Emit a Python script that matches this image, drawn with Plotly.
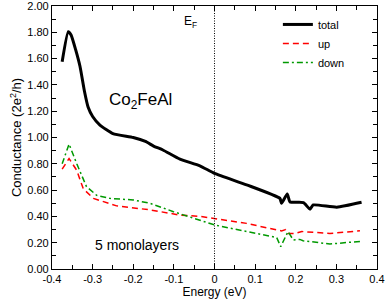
import plotly.graph_objects as go

# total
e_total = [-0.375, -0.360, -0.353, -0.342, -0.331, -0.320, -0.311, -0.300, -0.282, -0.250, -0.200, -0.170, -0.150, -0.127, -0.085, -0.036, 0.0, 0.079, 0.161, 0.165, 0.179, 0.186, 0.219, 0.235, 0.243, 0.301, 0.362]
g_total = [1.576, 1.805, 1.78, 1.67, 1.54, 1.35, 1.23, 1.16, 1.095, 1.03, 1.00, 0.97, 0.935, 0.905, 0.835, 0.785, 0.727, 0.64, 0.537, 0.50, 0.57, 0.51, 0.505, 0.455, 0.487, 0.47, 0.507]

# up
e_up = [-0.375, -0.358, -0.339, -0.323, -0.298, -0.241, -0.159, -0.085, -0.036, 0.0, 0.079, 0.153, 0.165, 0.175, 0.181, 0.198, 0.215, 0.284, 0.358]
g_up = [0.76, 0.84, 0.75, 0.61, 0.537, 0.48, 0.45, 0.41, 0.40, 0.385, 0.347, 0.297, 0.29, 0.30, 0.27, 0.27, 0.285, 0.27, 0.29]

# down
e_down = [-0.375, -0.358, -0.339, -0.315, -0.290, -0.257, -0.200, -0.159, -0.101, -0.036, 0.0, 0.079, 0.153, 0.163, 0.181, 0.194, 0.210, 0.218, 0.284, 0.358]
g_down = [0.80, 0.95, 0.80, 0.626, 0.56, 0.537, 0.525, 0.50, 0.436, 0.373, 0.335, 0.285, 0.24, 0.17, 0.285, 0.22, 0.225, 0.215, 0.19, 0.21]

x_ticks = [-0.4, -0.3, -0.2, -0.1, 0, 0.1, 0.2, 0.3, 0.4]
x_labels = ["-0.4", "-0.3", "-0.2", "-0.1", "0", "0.1", "0.2", "0.3", "0.4"]

fig = go.Figure()
fig.add_trace(go.Scatter(x=e_total, y=g_total, mode="lines", name="total",
                         line=dict(color="black", width=3, shape="spline", smoothing=0.5)))
fig.add_trace(go.Scatter(x=e_up, y=g_up, mode="lines", name="up",
                         line=dict(color="#ff0000", width=1.5, dash="6px,4px")))
fig.add_trace(go.Scatter(x=e_down, y=g_down, mode="lines", name="down",
                         line=dict(color="#009900", width=1.5, dash="6px,3px,2px,3px")))

fig.add_shape(type="line", x0=0, x1=0, y0=0, y1=2, xref="x", yref="y",
              line=dict(color="black", width=1, dash="1px,1.5px"))

fig.add_annotation(x=-0.183, y=1.28, text="Co<sub>2</sub>FeAl", showarrow=False,
                   font=dict(size=17, color="black"))
fig.add_annotation(x=-0.06, y=1.88, text="E<sub>F</sub>", showarrow=False,
                   font=dict(size=12, color="black"))
fig.add_annotation(x=-0.19, y=0.18, text="5 monolayers", showarrow=False,
                   font=dict(size=14, color="black"))

axis_common = dict(showline=True, linecolor="black", linewidth=1.2, mirror="ticks",
                   ticks="inside", ticklen=5, tickcolor="black", showgrid=False,
                   zeroline=False, automargin=False, ticklabeloverflow="allow",
                   tickfont=dict(size=11, color="black"))

fig.update_xaxes(range=[-0.4, 0.4], tickvals=x_ticks, ticktext=x_labels,
                 minor=dict(dtick=0.05, tick0=0, ticks="inside", ticklen=4, tickcolor="black"),
                 title=dict(text="Energy (eV)", font=dict(size=12, color="black"), standoff=0),
                 **axis_common)
fig.update_yaxes(range=[0, 2], dtick=0.2, tickformat=".2f",
                 minor=dict(dtick=0.1, ticks="inside", ticklen=4, tickcolor="black"),
                 title=dict(text="Conductance (2e<sup>2</sup>/h)", font=dict(size=13, color="black"), standoff=2),
                 **axis_common)

fig.update_layout(
    width=386, height=303,
    margin=dict(l=52, r=9, t=6, b=34),
    plot_bgcolor="white", paper_bgcolor="white",
    font=dict(family="Liberation Sans, Arial, sans-serif", color="black"),
    legend=dict(x=0.695, y=0.985, xanchor="left", yanchor="top",
                bgcolor="rgba(0,0,0,0)", font=dict(size=11), tracegroupgap=0,
                itemwidth=30),
    showlegend=True,
)

fig.write_html("out.html", config={"displayModeBar": False})

with open("out.html", "r", encoding="utf-8") as f:
    html = f.read()
html = html.replace("<head>", "<head><style>html,body{margin:0;padding:0;overflow:hidden;}</style>", 1)
with open("out.html", "w", encoding="utf-8") as f:
    f.write(html)
